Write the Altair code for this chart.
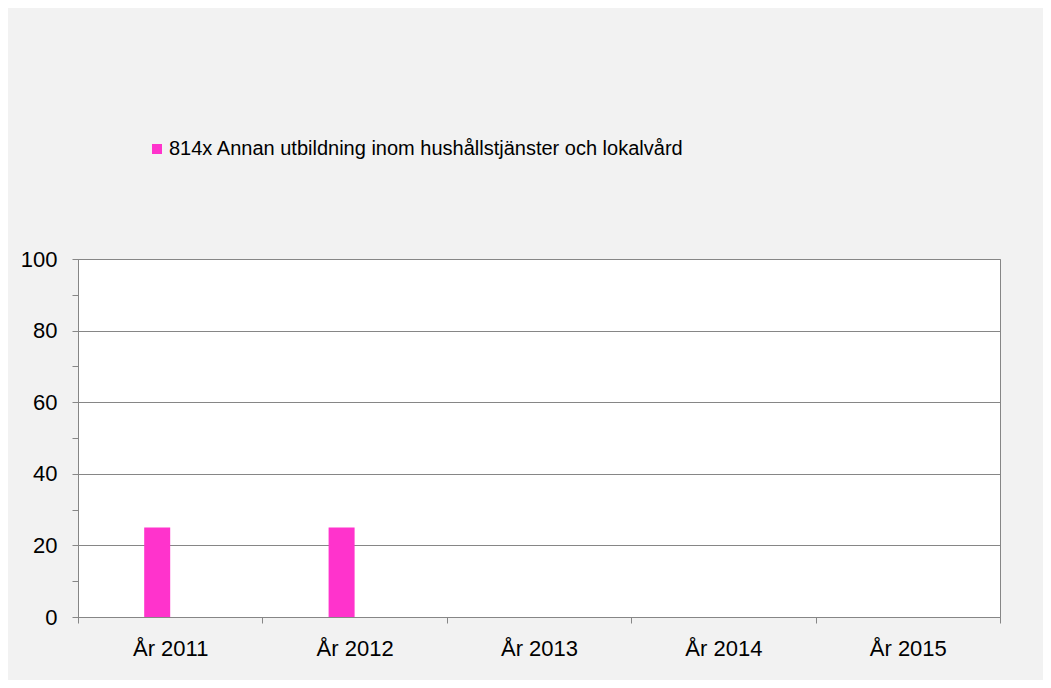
import altair as alt
import pandas as pd

years = ["År 2011", "År 2012", "År 2013", "År 2014", "År 2015"]
values = [25, 25, 0, 0, 0]
series_name = "814x Annan utbildning inom hushållstjänster och lokalvård"
bar_color = "#FF33CC"
y_ticks = [0, 10, 20, 30, 40, 50, 60, 70, 80, 90, 100]

df = pd.DataFrame({"year": years, "value": values, "series": [series_name] * len(years)})

FONT = "Liberation Sans"
GRID = "#868686"

chart = alt.Chart(df).mark_bar(width=26, xOffset=-13).encode(
    x=alt.X(
        "year:N",
        sort=years,
        scale=alt.Scale(paddingInner=0, paddingOuter=0),
        axis=alt.Axis(
            title=None,
            labelAngle=0,
            tickBand="extent",
            labelFontSize=22,
            labelFont=FONT,
            labelColor="#000000",
            labelPadding=15,
            tickSize=6,
            tickColor=GRID,
            domainColor=GRID,
            grid=False,
        ),
    ),
    y=alt.Y(
        "value:Q",
        scale=alt.Scale(domain=[0, 100], nice=False),
        axis=alt.Axis(
            title=None,
            values=y_ticks,
            labelExpr="datum.value % 20 == 0 ? datum.label : ''",
            labelFontSize=22,
            labelFont=FONT,
            labelColor="#000000",
            labelPadding=15,
            tickSize=6,
            tickColor=GRID,
            domainColor=GRID,
            grid=True,
            gridColor=GRID,
            gridOpacity={"condition": {"test": "datum.value % 20 == 0", "value": 1}, "value": 0},
        ),
    ),
    color=alt.Color(
        "series:N",
        scale=alt.Scale(domain=[series_name], range=[bar_color]),
        legend=alt.Legend(
            title=None,
            orient="none",
            legendX=69,
            legendY=-120,
            symbolType="square",
            symbolSize=100,
            symbolStrokeWidth=0,
            labelFontSize=20,
            labelFont=FONT,
            labelColor="#000000",
            labelOffset=2,
            labelLimit=0,
            padding=0,
        ),
    ),
).properties(
    width=922,
    height=358,
    autosize=alt.AutoSizeParams(type="none"),
    padding={"left": 70, "top": 251, "right": 43, "bottom": 63},
).configure(
    background="#F2F2F2",
).configure_view(
    fill="#FFFFFF",
    stroke=GRID,
)

chart.save("out.html", embed_options={"renderer": "svg", "actions": False})
